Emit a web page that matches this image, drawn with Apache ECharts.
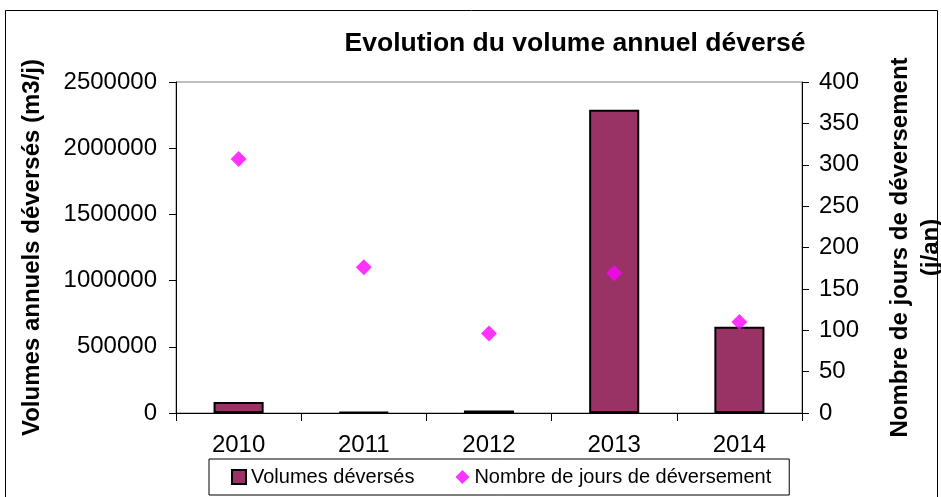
<!DOCTYPE html>
<html>
<head>
<meta charset="utf-8">
<script src="https://cdn.jsdelivr.net/npm/echarts@6/dist/echarts.min.js"></script>
<style>
  html, body { margin: 0; padding: 0; background: #fff; }
  #chart { width: 941px; height: 497px; }
</style>
</head>
<body>
<div id="chart"></div>
<script>
// données
const years = ['2010', '2011', '2012', '2013', '2014']
const volumes = [83000, 8000, 18000, 2290000, 652000]
const jours = [307, 176, 96, 169, 110]

const leftTicks = { min: 0, max: 2500000, interval: 500000 }
const rightTicks = { min: 0, max: 400, interval: 50 }

const font = 'Liberation Sans, Arial, sans-serif'

const chart = echarts.init(document.getElementById('chart'))

const option = {
  animation: false,
  textStyle: { fontFamily: font },
  title: {
    text: 'Evolution du volume annuel déversé',
    left: 570,
    top: 25,
    textAlign: 'center',
    textStyle: { fontSize: 26.5, fontWeight: 'bold', color: '#000', fontFamily: font }
  },
  legend: {
    left: 209,
    top: 459,
    padding: [8, 18, 8, 22],
    itemGap: 41,
    itemWidth: 14,
    itemHeight: 14,
    borderColor: '#000',
    borderWidth: 1,
    textStyle: { fontSize: 20, color: '#000', fontFamily: font },
    data: [
      { name: 'Volumes déversés', icon: 'rect' },
      { name: 'Nombre de jours de déversement', icon: 'diamond' }
    ]
  },
  grid: {
    left: 176,
    right: 139,
    top: 82,
    bottom: 84,
    outerBoundsMode: 'none',
    containLabel: false,
    show: true,
    borderColor: '#808080',
    borderWidth: 1
  },
  xAxis: {
    type: 'category',
    data: years,
    axisLine: { lineStyle: { color: '#000', width: 1 } },
    axisTick: { show: true, length: 8, lineStyle: { color: '#000' } },
    axisLabel: { fontSize: 24, color: '#000', margin: 20 }
  },
  yAxis: [
    {
      type: 'value',
      position: 'left',
      min: leftTicks.min,
      max: leftTicks.max,
      interval: leftTicks.interval,
      name: 'Volumes annuels déversés (m3/j)',
      nameLocation: 'middle',
      nameGap: 132,
      nameTextStyle: { fontSize: 24, fontWeight: 'bold', color: '#000', fontFamily: font },
      axisLine: { show: true, lineStyle: { color: '#000' } },
      axisTick: { show: true, length: 7, lineStyle: { color: '#000' } },
      axisLabel: { fontSize: 24, color: '#000', margin: 19, formatter: v => String(v) },
      splitLine: { show: false }
    },
    {
      type: 'value',
      position: 'right',
      min: rightTicks.min,
      max: rightTicks.max,
      interval: rightTicks.interval,
      name: 'Nombre de jours de déversement\n(j/an)',
      nameLocation: 'middle',
      nameGap: 83,
      nameTextStyle: { fontSize: 24, fontWeight: 'bold', color: '#000', lineHeight: 31, fontFamily: font },
      axisLine: { show: true, lineStyle: { color: '#000' } },
      axisTick: { show: true, length: 7, lineStyle: { color: '#000' } },
      axisLabel: { fontSize: 24, color: '#000', margin: 17, formatter: v => String(v) },
      splitLine: { show: false }
    }
  ],
  series: [
    {
      name: 'Volumes déversés',
      type: 'bar',
      yAxisIndex: 0,
      data: volumes,
      barWidth: '40%',
      itemStyle: { color: '#993366', borderColor: '#000', borderWidth: 2 }
    },
    {
      name: 'Nombre de jours de déversement',
      type: 'scatter',
      yAxisIndex: 1,
      data: jours,
      symbol: 'diamond',
      symbolSize: 16,
      itemStyle: { color: '#ff00ff' }
    }
  ],
  graphic: [
    {
      type: 'rect',
      shape: { x: 5.5, y: 10.5, width: 932, height: 500 },
      style: { fill: 'none', stroke: '#000', lineWidth: 1 },
      silent: true,
      z: -1
    }
  ]
}

chart.setOption(option)
</script>
</body>
</html>
